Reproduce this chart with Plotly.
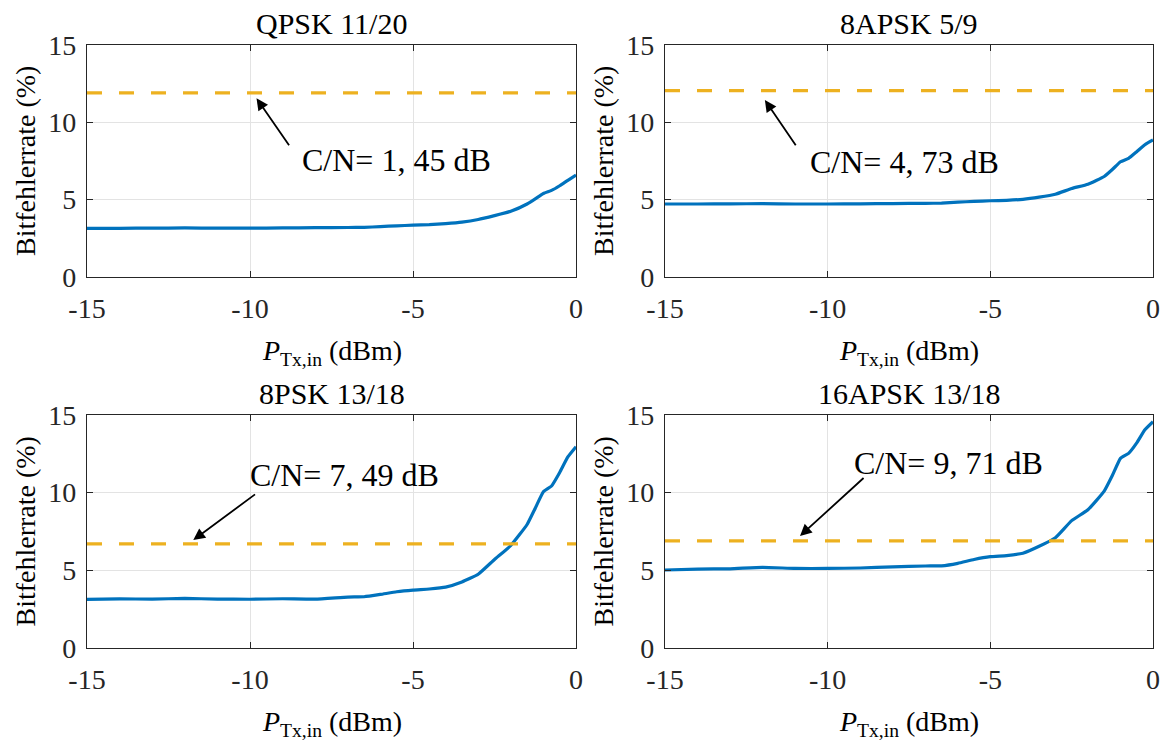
import plotly.graph_objects as go

# ---------------- data ----------------
p_tx = [-15, -14, -13, -12, -11, -10, -9, -8, -7, -6.5, -6, -5.5, -5, -4.5, -4,
        -3.5, -3, -2.5, -2, -1.5, -1.25, -1, -0.75, -0.5, -0.25, 0]

ber_qpsk = [3.15, 3.15, 3.16, 3.17, 3.16, 3.16, 3.17, 3.19, 3.20, 3.21, 3.26, 3.31, 3.35,
            3.38, 3.45, 3.55, 3.72, 3.97, 4.25, 4.72, 5.05, 5.40, 5.60, 5.90, 6.25, 6.59]
ber_8apsk = [4.72, 4.72, 4.73, 4.74, 4.72, 4.72, 4.73, 4.75, 4.76, 4.78, 4.84, 4.89, 4.93,
             4.96, 5.02, 5.16, 5.35, 5.72, 6.00, 6.50, 6.95, 7.45, 7.67, 8.10, 8.55, 8.86]
ber_8psk = [3.13, 3.16, 3.15, 3.19, 3.15, 3.14, 3.17, 3.15, 3.28, 3.30, 3.45, 3.62, 3.73,
            3.80, 3.92, 4.25, 4.75, 5.70, 6.60, 7.95, 9.00, 10.06, 10.43, 11.30, 12.30, 12.96]
ber_16apsk = [5.02, 5.08, 5.10, 5.19, 5.12, 5.12, 5.15, 5.22, 5.28, 5.29, 5.45, 5.70, 5.88,
              5.95, 6.10, 6.55, 7.10, 8.20, 8.90, 10.10, 11.10, 12.21, 12.53, 13.20, 14.05, 14.57]

titles = ["QPSK 11/20", "8APSK 5/9", "8PSK 13/18", "16APSK 13/18"]
thresholds = [11.9, 12.05, 6.7, 6.9]
cn_labels = ["C/N= 1, 45 dB", "C/N= 4, 73 dB", "C/N= 7, 49 dB", "C/N= 9, 71 dB"]
# arrow: head (x, y), tail (x, y); label centre (x, y)
arrow_head = [(-9.8, 11.55), (-11.93, 11.44), (-11.74, 6.95), (-10.85, 7.21)]
arrow_tail = [(-8.77, 8.42), (-10.95, 8.42), (-9.8, 9.96), (-8.85, 11.03)]
label_pos = [(-5.5, 7.56), (-7.63, 7.45), (-7.1, 11.14), (-6.3, 11.89)]
series = [ber_qpsk, ber_8apsk, ber_8psk, ber_16apsk]

x_ticks = [-15, -10, -5, 0]
x_ticklabels = ["-15", "-10", "-5", "0"]
y_ticks = [0, 5, 10, 15]

# ---------------- layout geometry ----------------
W, H = 1169, 742
FONT = "Liberation Serif"
TXT = "#262626"
cols = [(87, 576), (665, 1153)]
rows = [(45, 277), (415, 648)]

fig = go.Figure()
annotations = []

for i in range(4):
    r, c = divmod(i, 2)
    xa = "x" if i == 0 else f"x{i+1}"
    ya = "y" if i == 0 else f"y{i+1}"
    xl, xr = cols[c]
    yt, yb = rows[r]
    xdom = [xl / W, xr / W]
    ydom = [1 - yb / H, 1 - yt / H]

    fig.add_trace(go.Scatter(x=p_tx, y=series[i], mode="lines",
                             line=dict(color="#0072BD", width=3.2, shape="spline", smoothing=0.4),
                             xaxis=xa, yaxis=ya, showlegend=False))
    fig.add_trace(go.Scatter(x=[-15, 0], y=[thresholds[i], thresholds[i]], mode="lines",
                             line=dict(color="#EDB120", width=3.2, dash="15px,17px"),
                             xaxis=xa, yaxis=ya, showlegend=False))

    axcommon = dict(showline=True, linecolor=TXT, linewidth=1.2, mirror="ticks",
                    ticks="inside", ticklen=6, tickcolor=TXT, tickwidth=1.2,
                    showgrid=True, gridcolor="#e3e3e3", gridwidth=1, zeroline=False,
                    automargin=False,
                    tickfont=dict(family=FONT, size=28, color=TXT))
    fig.update_layout({
        ("xaxis" if i == 0 else f"xaxis{i+1}"): dict(
            domain=xdom, range=[-15, 0], tickvals=x_ticks, ticktext=x_ticklabels,
            anchor=ya, ticklabelstandoff=6, **axcommon),
        ("yaxis" if i == 0 else f"yaxis{i+1}"): dict(
            domain=ydom, range=[0, 15], tickvals=y_ticks, anchor=xa,
            ticklabelstandoff=4, **axcommon),
    })

    # subplot title
    annotations.append(dict(text=titles[i], xref="paper", yref="paper",
                            x=(xl + xr) / 2 / W, y=1 - (yt - 22) / H,
                            xanchor="center", yanchor="middle", showarrow=False,
                            font=dict(family=FONT, size=30, color="#000000")))
    # x-axis title
    annotations.append(dict(text="<i>P</i><sub>Tx,in</sub> (dBm)", xref="paper", yref="paper",
                            x=(xl + xr) / 2 / W, y=1 - (yb + 75) / H,
                            xanchor="center", yanchor="middle", showarrow=False,
                            font=dict(family=FONT, size=28, color="#000000")))
    # y-axis title
    annotations.append(dict(text="Bitfehlerrate (%)", xref="paper", yref="paper",
                            x=(xl - 62) / W, y=1 - (yt + yb) / 2 / H, textangle=-90,
                            xanchor="center", yanchor="middle", showarrow=False,
                            font=dict(family=FONT, size=28, color="#000000")))
    # arrow
    annotations.append(dict(x=arrow_head[i][0], y=arrow_head[i][1],
                            ax=arrow_tail[i][0], ay=arrow_tail[i][1],
                            xref=xa, yref=ya, axref=xa, ayref=ya, text="",
                            showarrow=True, arrowhead=2, arrowsize=1.3,
                            arrowwidth=1.8, arrowcolor="#000000"))
    # C/N label
    annotations.append(dict(text=cn_labels[i], x=label_pos[i][0], y=label_pos[i][1],
                            xref=xa, yref=ya, xanchor="center", yanchor="middle",
                            showarrow=False,
                            font=dict(family=FONT, size=32, color="#000000")))

fig.update_layout(width=W, height=H, margin=dict(l=0, r=0, t=0, b=0),
                  paper_bgcolor="white", plot_bgcolor="white",
                  annotations=annotations)

fig.write_html("out.html")
